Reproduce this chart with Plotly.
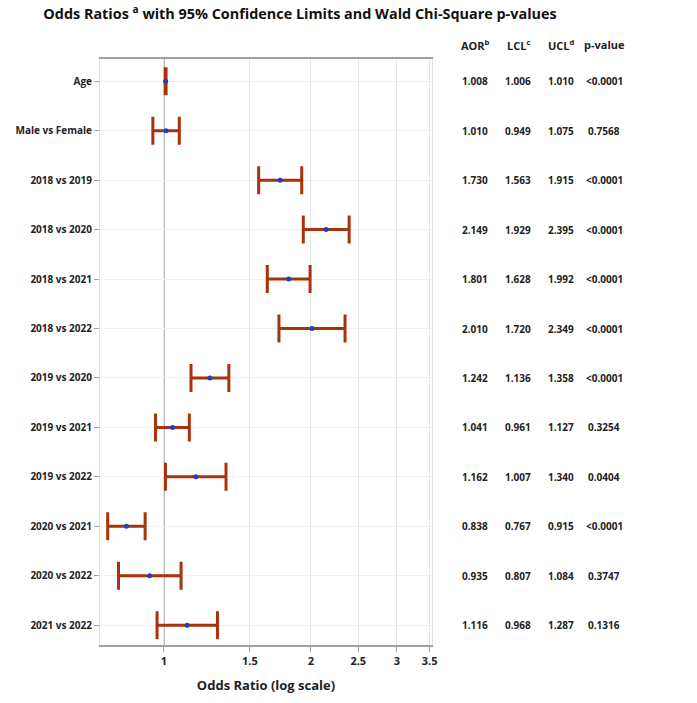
import plotly.graph_objects as go

labels = ["Age", "Male vs Female", "2018 vs 2019", "2018 vs 2020", "2018 vs 2021", "2018 vs 2022",
          "2019 vs 2020", "2019 vs 2021", "2019 vs 2022", "2020 vs 2021", "2020 vs 2022", "2021 vs 2022"]
aor = [1.008, 1.010, 1.730, 2.149, 1.801, 2.010, 1.242, 1.041, 1.162, 0.838, 0.935, 1.116]
lcl = [1.006, 0.949, 1.563, 1.929, 1.628, 1.720, 1.136, 0.961, 1.007, 0.767, 0.807, 0.968]
ucl = [1.010, 1.075, 1.915, 2.395, 1.992, 2.349, 1.358, 1.127, 1.340, 0.915, 1.084, 1.287]
pval = ["<0.0001", "0.7568", "<0.0001", "<0.0001", "<0.0001", "<0.0001",
        "<0.0001", "0.3254", "0.0404", "<0.0001", "0.3747", "0.1316"]
tick_vals = [1, 1.5, 2, 2.5, 3, 3.5]
col_headers = ["AOR<sup>b</sup>", "LCL<sup>c</sup>", "UCL<sup>d</sup>", "p-value"]

FONT = "Open Sans"
RED = "#a8320a"
fig = go.Figure()
fig.add_trace(go.Scatter(
    x=aor, y=labels, mode="markers",
    marker=dict(color="#1d3fc4", size=5),
    error_x=dict(type="data", symmetric=False,
                 array=[u - a for u, a in zip(ucl, aor)],
                 arrayminus=[a - l for a, l in zip(aor, lcl)],
                 color=RED, thickness=3, width=14),
    showlegend=False, hoverinfo="skip"))

# reference line at 1
fig.add_shape(type="line", xref="x", yref="paper", x0=1, x1=1, y0=0, y1=1,
              line=dict(color="#bcbcbc", width=2), layer="below")

L, R, T, B = 100, 265, 59, 58
pw = 697 - L - R
col_x = [475, 518, 561, 604]
for cx, h in zip(col_x, col_headers):
    fig.add_annotation(x=(cx - L) / pw, y=1.0, xref="paper", yref="paper", yshift=24,
                       text=h, showarrow=False, xanchor="center",
                       font=dict(family=FONT, size=11, color="#222", weight="bold"))
cols = [[f"{v:.3f}" for v in aor], [f"{v:.3f}" for v in lcl], [f"{v:.3f}" for v in ucl], pval]
for cx, col in zip(col_x, cols):
    for lab, t in zip(labels, col):
        fig.add_annotation(x=(cx - L) / pw, y=lab, xref="paper", yref="y",
                           text=t, showarrow=False, xanchor="center",
                           font=dict(family=FONT, size=10, color="#222", weight="bold"))

fig.update_layout(
    width=697, height=703,
    margin=dict(l=L, r=R, t=T, b=B),
    paper_bgcolor="white", plot_bgcolor="white",
    font=dict(family=FONT, color="#222"),
    title=dict(text="Odds Ratios <sup>a</sup> with 95% Confidence Limits and Wald Chi-Square p-values",
               x=300 / 697, xref="container", xanchor="center", y=0.98, yanchor="middle",
               font=dict(family=FONT, size=14.4, color="#111", weight="bold")),
    xaxis=dict(type="log", range=[-0.131, 0.549], tickvals=tick_vals,
               ticktext=[str(v) for v in tick_vals],
               showgrid=True, gridcolor="#e6e6e6", gridwidth=1,
               showline=True, linecolor="#a0a0a0", linewidth=2, mirror=True,
               ticks="outside", ticklen=5, tickcolor="#a0a0a0",
               tickfont=dict(family=FONT, size=11, color="#222", weight="bold"),
               title=dict(text="Odds Ratio (log scale)", standoff=14,
                          font=dict(family=FONT, size=13, color="#222", weight="bold")),
               zeroline=False),
    yaxis=dict(type="category", categoryorder="array", categoryarray=labels,
               range=[11.4, -0.45],
               showgrid=True, gridcolor="#f0f0f0", gridwidth=1,
               showline=True, linecolor="#e0e0e0", linewidth=1, mirror=True,
               ticks="outside", ticklen=5, tickcolor="#a0a0a0",
               tickfont=dict(family=FONT, size=10, color="#222", weight="bold")),
)
fig.write_html("out.html")
